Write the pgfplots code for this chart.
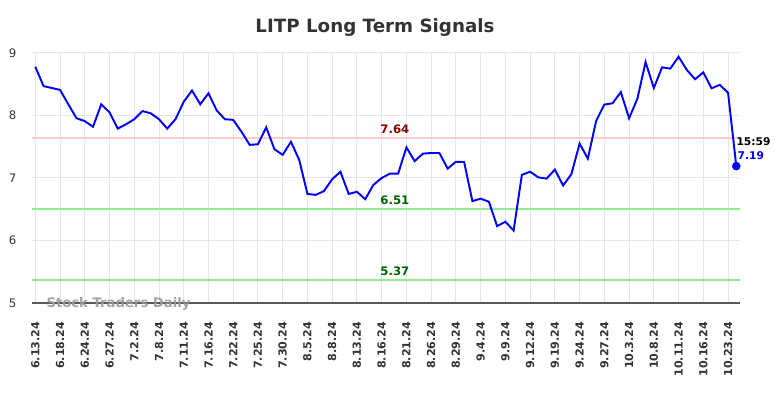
\documentclass[border=0pt]{standalone}
\usepackage{pgfplots}
\pgfplotsset{compat=1.18}
\usepackage{fontspec}
\setmainfont{DejaVu Sans}
\definecolor{gridc}{HTML}{E6E6E6}
\definecolor{pinkl}{HTML}{FFCCCC}
\definecolor{greenl}{HTML}{90EE90}
\definecolor{dred}{HTML}{8B0000}
\definecolor{dgreen}{HTML}{006400}
\definecolor{txt}{HTML}{333333}
\begin{document}
\begin{tikzpicture}
\begin{axis}[
  at={(24pt,71.25pt)}, anchor=south west,
  scale only axis, width=531pt, height=187.5pt,
  xmin=-0.4, xmax=85.45, ymin=5, ymax=9,
  clip=false,
  separate axis lines,
  axis x line*=bottom, axis y line*=left,
  x axis line style={draw=black!65, line width=0.9pt, -},
  y axis line style={draw=none, -},
  major tick length=0pt,
  grid=major, grid style={draw=gridc, line width=0.75pt},
  ytick={5,6,7,8,9},
  xtick={0,3,...,84},
  xticklabels={6.13.24,6.18.24,6.24.24,6.27.24,7.2.24,7.8.24,7.11.24,7.16.24,7.22.24,7.25.24,7.30.24,8.5.24,8.8.24,8.13.24,8.16.24,8.21.24,8.26.24,8.29.24,9.4.24,9.9.24,9.12.24,9.19.24,9.24.24,9.27.24,10.3.24,10.8.24,10.11.24,10.16.24,10.23.24},
  /pgf/number format/assume math mode=true,
  xticklabel style={rotate=90, anchor=east, inner sep=0pt, font=\fontsize{8.3pt}{9pt}\selectfont\bfseries, text=txt},
  xticklabel shift=14pt,
  yticklabel style={anchor=east, inner sep=0pt, xshift=-11.5pt, font=\fontsize{8.8pt}{10pt}\selectfont, text=txt},
]
\addplot[draw=pinkl, line width=1.5pt] coordinates {(-0.4,7.64) (85.45,7.64)};
\addplot[draw=greenl, line width=1.5pt] coordinates {(-0.4,6.51) (85.45,6.51)};
\addplot[draw=greenl, line width=1.5pt] coordinates {(-0.4,5.37) (85.45,5.37)};
\addplot[draw=blue, line width=1.45pt] table {
x y
0 8.78
1 8.47
2 8.44
3 8.41
4 8.18
5 7.955
6 7.91
7 7.82
8 8.18
9 8.05
10 7.79
11 7.86
12 7.94
13 8.07
14 8.035
15 7.94
16 7.79
17 7.94
18 8.22
19 8.40
20 8.18
21 8.355
22 8.08
23 7.94
24 7.93
25 7.74
26 7.53
27 7.54
28 7.81
29 7.46
30 7.37
31 7.58
32 7.29
33 6.745
34 6.73
35 6.79
36 6.98
37 7.10
38 6.745
39 6.78
40 6.66
41 6.89
42 7.00
43 7.07
44 7.07
45 7.49
46 7.27
47 7.39
48 7.40
49 7.40
50 7.15
51 7.26
52 7.255
53 6.63
54 6.67
55 6.62
56 6.23
57 6.30
58 6.16
59 7.05
60 7.10
61 7.01
62 6.99
63 7.135
64 6.88
65 7.06
66 7.55
67 7.31
68 7.91
69 8.175
70 8.195
71 8.375
72 7.955
73 8.265
74 8.855
75 8.44
76 8.77
77 8.75
78 8.94
79 8.73
80 8.58
81 8.69
82 8.435
83 8.49
84 8.365
85 7.19
};
\addplot[only marks, mark=*, mark size=3pt, color=blue] coordinates {(85,7.19)};
\node[font=\fontsize{8.8pt}{10pt}\selectfont\bfseries, text=dred, anchor=base] at (axis cs:43.6,7.64) [yshift=3.2pt] {7.64};
\node[font=\fontsize{8.8pt}{10pt}\selectfont\bfseries, text=dgreen, anchor=base] at (axis cs:43.6,6.51) [yshift=3.2pt] {6.51};
\node[font=\fontsize{8.8pt}{10pt}\selectfont\bfseries, text=dgreen, anchor=base] at (axis cs:43.6,5.37) [yshift=3.2pt] {5.37};
\node[font=\fontsize{8pt}{9pt}\selectfont\bfseries, text=black, anchor=west, inner sep=0pt] at (axis cs:85,7.19) [yshift=18pt] {15:59};
\node[font=\fontsize{8pt}{9pt}\selectfont\bfseries, text=blue, anchor=west, inner sep=0pt] at (axis cs:85,7.19) [yshift=7.5pt, xshift=0.8pt] {7.19};
\node[font=\fontsize{9.9pt}{11pt}\selectfont\bfseries, text=black!40, opacity=0.9, anchor=base west, inner sep=0pt] at (axis cs:1.33,4.93) {Stock Traders Daily};
\end{axis}
\node[font=\fontsize{13.7pt}{16pt}\selectfont\bfseries, text=txt, anchor=base] at (281.25pt,274.3pt) {LITP Long Term Signals};
\pgfresetboundingbox
\useasboundingbox (0,0) rectangle (588pt,298.5pt);
\end{tikzpicture}
\end{document}
